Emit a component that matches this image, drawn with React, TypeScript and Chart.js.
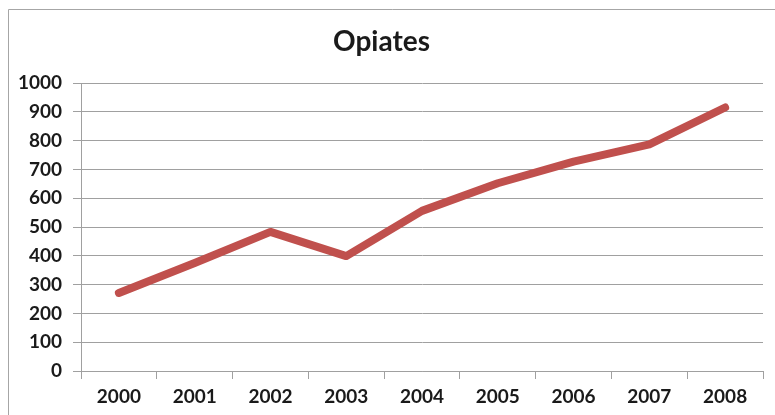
import React, { useEffect, useRef } from "react";
import { Chart, registerables } from "chart.js";

Chart.register(...registerables);

const categories = ["2000", "2001", "2002", "2003", "2004", "2005", "2006", "2007", "2008"];
const opiates = [271, 375, 483, 399, 556, 652, 727, 787, 915];
const yMin = 0;
const yMax = 1000;
const yStep = 100;
const titleText = "Opiates";

const FONT = "Lato, 'Open Sans', sans-serif";

const borderPlugin = {
  id: "outerBorder",
  beforeDraw(chart: any) {
    const ctx = chart.ctx;
    ctx.save();
    ctx.strokeStyle = "#a6a6a6";
    ctx.lineWidth = 1;
    ctx.beginPath();
    ctx.moveTo(8.5, 420);
    ctx.lineTo(8.5, 9.5);
    ctx.lineTo(780, 9.5);
    ctx.stroke();
    ctx.restore();
  },
};

export default function App() {
  const ref = useRef<HTMLCanvasElement | null>(null);

  useEffect(() => {
    document.body.style.margin = "0";
    const canvas = ref.current;
    if (!canvas) return;
    const chart = new Chart(canvas, {
      type: "line",
      data: {
        labels: categories,
        datasets: [
          {
            label: titleText,
            data: opiates,
            borderColor: "#c0504d",
            backgroundColor: "#c0504d",
            borderWidth: 8,
            pointRadius: 0,
            pointHoverRadius: 0,
            tension: 0,
            borderCapStyle: "round",
            borderJoinStyle: "round",
          },
        ],
      },
      options: {
        animation: false,
        responsive: false,
        maintainAspectRatio: false,
        layout: { padding: { left: 0, right: 12, top: 0, bottom: 0 } },
        plugins: {
          legend: { display: false },
          tooltip: { enabled: false },
          title: {
            display: true,
            text: titleText,
            color: "#1a1a1a",
            font: { family: FONT, size: 28, weight: "bold", lineHeight: 1.2 },
            padding: { top: 25, bottom: 24.4 },
          },
        },
        scales: {
          x: {
            offset: true,
            grid: {
              offset: true,
              drawOnChartArea: false,
              drawTicks: true,
              tickLength: 8,
              color: "#a0a0a0",
            },
            border: { display: true, color: "#a0a0a0" },
            ticks: {
              color: "#1a1a1a",
              font: { family: FONT, size: 19, weight: "bold" },
              padding: 6,
              maxRotation: 0,
              autoSkip: false,
            },
            afterFit(scale: any) {
              scale.height = 44;
            },
          },
          y: {
            min: yMin,
            max: yMax,
            grid: {
              color: "#a0a0a0",
              drawTicks: true,
              tickLength: 8,
            },
            border: { display: true, color: "#a0a0a0" },
            ticks: {
              stepSize: yStep,
              color: "#1a1a1a",
              font: { family: FONT, size: 19, weight: "bold" },
              padding: 11,
              callback: (v: any) => String(v),
            },
            afterFit(scale: any) {
              scale.width = 81;
            },
          },
        },
      },
      plugins: [borderPlugin],
    });
    return () => chart.destroy();
  }, []);

  return (
    <div style={{ position: "relative", width: 775, height: 415, background: "#fff" }}>
      <canvas ref={ref} width={775} height={415} style={{ display: "block", width: 775, height: 415 }} />
    </div>
  );
}
